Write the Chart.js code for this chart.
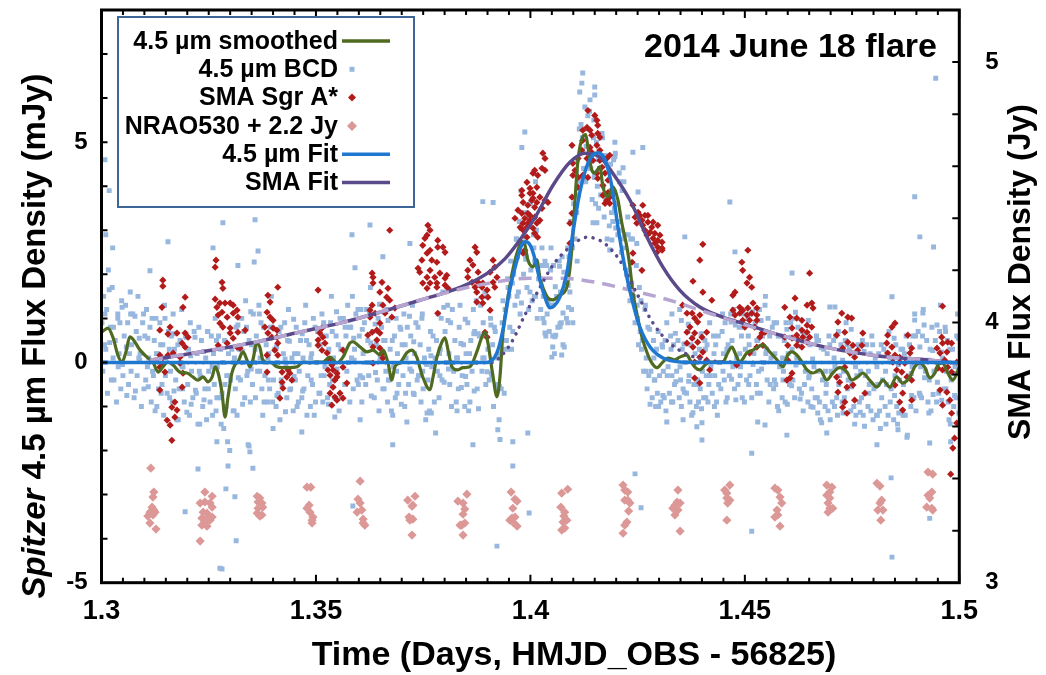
<!DOCTYPE html>
<html>
<head>
<meta charset="utf-8">
<script src="https://cdn.jsdelivr.net/npm/chart.js@4.4.1/dist/chart.umd.min.js"></script>
<style>
  html, body { margin: 0; padding: 0; background: #fff; }
  #wrap { width: 1046px; height: 675px; }
</style>
</head>
<body>
<div id="wrap"><canvas id="chart" width="1046" height="675"></canvas></div>
<script>
// Tick labels
const xLabels = [1.3, 1.35, 1.4, 1.45, 1.5];
const leftLabels = [-5, 0, 5];
const rightLabels = [3, 4, 5];

// Spitzer 4.5 um BCD samples [time, mJy]
const bcd = [
[1.3001,0.9],[1.3003,-0.2],[1.3005,1.5],[1.3007,0.4],[1.3010,0.3],[1.3012,1.2],[1.3014,-0.7],[1.3016,2.1],
[1.3021,0.8],[1.3023,-0.4],[1.3025,1.7],[1.3027,0.1],[1.3032,0.5],[1.3035,-0.9],[1.3038,1.1],
[1.3041,0.2],[1.3043,0.9],[1.3045,-0.6],[1.3047,1.4],[1.3050,-0.3],[1.3053,0.6],[1.3056,1.3],
[1.3061,0.9],[1.3063,-0.5],[1.3065,0.2],[1.3067,1.6],[1.3070,0.4],[1.3073,1.1],[1.3076,-0.8],
[1.3081,0.7],[1.3083,-0.3],[1.3085,1.5],[1.3087,0.1],[1.3090,0.2],[1.3093,-1.0],[1.3096,0.9],
[1.3101,0.6],[1.3103,-0.4],[1.3105,1.2],[1.3107,-0.1],[1.3110,0.1],[1.3113,0.8],[1.3116,-0.9],
[1.3121,-0.3],[1.3123,0.5],[1.3125,-1.1],[1.3127,1.0],[1.3130,0.2],[1.3133,-0.6],[1.3136,0.9],
[1.3141,-0.5],[1.3143,0.4],[1.3145,-1.2],[1.3147,1.3],[1.3150,0.1],[1.3153,-0.7],[1.3156,0.7],
[1.3161,-0.2],[1.3163,0.6],[1.3165,-0.9],[1.3167,1.1],[1.3170,0.3],[1.3173,-0.4],[1.3176,-1.3],
[1.3181,-0.6],[1.3183,0.5],[1.3185,0.0],[1.3187,1.2],[1.3190,-0.1],[1.3193,-0.9],[1.3196,0.6],
[1.3201,-0.5],[1.3203,0.3],[1.3205,-1.2],[1.3207,0.9],[1.3210,-0.2],[1.3213,-0.8],[1.3216,0.7],
[1.3221,-0.7],[1.3223,0.2],[1.3225,-1.4],[1.3227,0.8],[1.3230,-0.3],[1.3233,0.5],[1.3236,-1.0],
[1.3241,-0.6],[1.3243,0.1],[1.3245,-1.3],[1.3247,0.7],[1.3250,-0.2],[1.3253,-0.9],[1.3256,0.6],
[1.3261,0.2],[1.3263,-0.5],[1.3265,1.0],[1.3267,-1.1],[1.3270,-0.1],[1.3273,0.6],[1.3276,-0.8],
[1.3281,-0.7],[1.3283,0.0],[1.3285,-1.5],[1.3287,0.5],[1.3290,-1.0],[1.3292,-0.3],[1.3294,-1.8],[1.3296,0.2],
[1.3301,-0.4],[1.3304,0.3],[1.3307,-1.1],[1.3310,0.1],[1.3312,-0.6],[1.3314,0.8],[1.3316,-1.2],
[1.3321,0.3],[1.3324,-0.4],[1.3327,1.0],[1.3330,0.0],[1.3332,0.7],[1.3334,-0.8],[1.3336,1.4],
[1.3341,-0.2],[1.3344,0.5],[1.3347,-0.9],[1.3350,0.4],[1.3352,-0.5],[1.3354,1.1],[1.3356,0.0],
[1.3361,0.6],[1.3364,-0.2],[1.3367,1.3],[1.3370,0.1],[1.3372,0.9],[1.3374,-0.6],[1.3376,-1.2],
[1.3381,-0.3],[1.3384,0.4],[1.3387,-0.9],[1.3390,0.2],[1.3392,-0.6],[1.3394,0.8],[1.3396,1.5],
[1.3401,-0.4],[1.3404,0.3],[1.3407,-1.0],[1.3410,0.0],[1.3412,-0.7],[1.3414,0.7],[1.3416,-1.3],
[1.3421,-0.5],[1.3424,0.2],[1.3427,0.9],[1.3430,-0.1],[1.3432,-0.8],[1.3434,0.5],[1.3436,1.2],
[1.3441,-0.6],[1.3444,0.1],[1.3447,-1.1],[1.3450,0.2],[1.3452,-0.4],[1.3454,0.8],[1.3456,-1.0],
[1.3461,-0.2],[1.3464,0.5],[1.3467,-0.8],[1.3470,0.1],[1.3472,-0.6],[1.3474,0.9],[1.3476,1.3],
[1.3481,-0.3],[1.3484,0.4],[1.3487,-1.0],[1.3490,0.2],[1.3492,-0.5],[1.3494,1.0],[1.3496,-1.2],
[1.3501,0.0],[1.3504,0.7],[1.3507,-0.7],[1.3510,0.4],[1.3512,-0.3],[1.3514,1.1],[1.3516,-0.9],
[1.3521,-0.1],[1.3524,0.6],[1.3527,-0.8],[1.3530,0.3],[1.3532,-0.5],[1.3534,0.9],[1.3536,1.5],
[1.3541,0.1],[1.3544,-0.8],[1.3547,0.6],[1.3550,-0.3],[1.3552,0.4],[1.3554,-1.1],[1.3556,1.0],
[1.3561,0.3],[1.3564,1.0],[1.3567,-0.5],[1.3570,0.6],[1.3572,-0.2],[1.3574,1.3],[1.3576,0.0],
[1.3581,0.8],[1.3583,0.1],[1.3585,1.5],[1.3587,-0.6],[1.3590,0.3],[1.3593,1.1],[1.3596,-0.4],
[1.3601,0.6],[1.3603,-0.3],[1.3605,1.2],[1.3607,-0.9],[1.3610,0.2],[1.3613,0.9],[1.3616,-0.5],
[1.3621,0.5],[1.3623,-0.3],[1.3625,1.1],[1.3627,1.7],[1.3630,0.0],[1.3633,0.7],[1.3636,-0.8],
[1.3641,0.4],[1.3643,-0.4],[1.3645,1.0],[1.3647,-1.1],[1.3650,0.1],[1.3653,0.8],[1.3656,-0.6],
[1.3661,0.5],[1.3663,-0.2],[1.3665,1.2],[1.3667,-0.9],[1.3670,-0.4],[1.3673,0.3],[1.3676,-1.1],
[1.3681,-0.1],[1.3683,0.6],[1.3685,-0.8],[1.3687,1.0],[1.3690,0.2],[1.3693,-0.5],[1.3696,0.8],
[1.3701,0.4],[1.3703,-0.3],[1.3705,1.1],[1.3707,-1.0],[1.3710,0.1],[1.3713,0.8],[1.3716,-0.5],
[1.3721,0.6],[1.3723,-0.2],[1.3725,1.3],[1.3727,-0.7],[1.3730,0.2],[1.3733,0.9],[1.3736,-0.4],
[1.3741,-0.3],[1.3743,0.4],[1.3745,-0.9],[1.3747,1.0],[1.3750,-0.6],[1.3753,0.1],[1.3756,-1.3],
[1.3761,-0.4],[1.3763,0.3],[1.3765,-1.1],[1.3767,0.7],[1.3770,-0.1],[1.3773,0.6],[1.3776,-0.9],
[1.3781,0.5],[1.3783,-0.2],[1.3785,1.1],[1.3787,-0.8],[1.3790,0.3],[1.3792,1.0],[1.3794,-0.4],[1.3796,1.6],
[1.3801,0.7],[1.3804,0.0],[1.3807,1.3],[1.3810,0.2],[1.3812,-0.5],[1.3814,0.9],[1.3816,-1.0],
[1.3821,-0.2],[1.3824,0.5],[1.3827,-0.9],[1.3830,0.1],[1.3832,-0.6],[1.3834,0.8],[1.3836,1.3],
[1.3841,-0.3],[1.3844,0.4],[1.3847,-1.0],[1.3850,0.2],[1.3852,-0.5],[1.3854,0.9],[1.3856,-1.1],
[1.3861,0.5],[1.3864,-0.2],[1.3867,1.2],[1.3870,0.7],[1.3872,0.0],[1.3874,1.4],[1.3876,-0.6],
[1.3881,0.6],[1.3884,1.3],[1.3887,-0.2],[1.3890,0.9],[1.3892,0.1],[1.3894,1.6],[1.3896,-0.5],
[1.3901,0.3],[1.3904,-0.4],[1.3907,1.0],[1.3910,-0.3],[1.3912,0.4],[1.3914,-1.0],[1.3916,0.8],
[1.3921,-0.6],[1.3924,0.1],[1.3927,-1.3],[1.3930,0.2],[1.3932,-0.6],[1.3934,0.9],[1.3936,1.4],
[1.3941,1.2],[1.3944,0.5],[1.3947,1.9],[1.3950,1.5],[1.3952,0.8],[1.3954,2.3],[1.3956,0.3],
[1.3961,2.0],[1.3964,1.3],[1.3967,2.8],[1.3970,2.4],[1.3972,1.6],[1.3974,3.2],[1.3976,1.1],
[1.3981,2.7],[1.3984,2.0],[1.3987,3.4],[1.3990,2.4],[1.3992,1.7],[1.3994,3.1],[1.3996,1.2],
[1.4001,2.1],[1.4004,1.4],[1.4007,2.9],[1.4010,2.3],[1.4012,1.5],[1.4014,3.0],[1.4016,1.0],
[1.4021,1.9],[1.4024,1.2],[1.4027,2.6],[1.4030,1.5],[1.4032,0.9],[1.4034,2.3],[1.4036,0.6],
[1.4041,1.4],[1.4044,0.7],[1.4047,2.1],[1.4050,1.3],[1.4052,0.6],[1.4054,2.2],[1.4056,0.2],
[1.4061,1.5],[1.4064,0.8],[1.4067,2.3],[1.4070,1.6],[1.4072,0.9],[1.4074,2.4],[1.4076,0.4],
[1.4081,1.8],[1.4084,1.0],[1.4087,2.6],[1.4090,2.4],[1.4092,1.6],[1.4094,3.2],[1.4096,1.2],
[1.4101,3.6],[1.4104,2.8],[1.4107,4.3],[1.4110,4.6],[1.4112,3.8],[1.4114,5.3],[1.4116,4.1],
[1.4121,5.1],[1.4124,4.4],[1.4127,5.8],[1.4130,4.9],[1.4132,4.2],[1.4134,5.6],[1.4136,4.5],
[1.4141,4.4],[1.4144,3.7],[1.4147,5.1],[1.4150,4.3],[1.4152,3.6],[1.4154,5.0],[1.4156,4.0],
[1.4161,4.4],[1.4164,3.8],[1.4167,5.2],[1.4170,4.0],[1.4172,3.3],[1.4174,4.7],[1.4176,3.7],
[1.4181,3.8],[1.4184,3.1],[1.4187,4.5],[1.4190,3.9],[1.4192,3.2],[1.4194,4.6],[1.4196,3.5],
[1.4201,3.6],[1.4204,2.9],[1.4207,4.3],[1.4210,3.2],[1.4212,2.5],[1.4214,3.9],[1.4216,2.8],
[1.4221,2.6],[1.4224,2.0],[1.4227,3.3],[1.4230,2.1],[1.4232,1.4],[1.4234,2.8],[1.4236,1.8],
[1.4241,1.5],[1.4244,0.9],[1.4247,2.2],[1.4250,1.0],[1.4252,0.4],[1.4254,1.7],[1.4256,0.7],
[1.4261,0.5],[1.4264,-0.2],[1.4267,1.2],[1.4270,0.1],[1.4272,-0.6],[1.4274,0.8],[1.4276,-0.3],
[1.4281,-0.2],[1.4284,-0.8],[1.4287,0.5],[1.4290,-0.4],[1.4292,-1.0],[1.4294,0.3],[1.4296,-0.7],
[1.4301,-0.3],[1.4304,-0.9],[1.4307,0.4],[1.4310,-0.2],[1.4312,-0.8],[1.4314,0.5],[1.4316,-1.1],
[1.4321,-0.1],[1.4324,-0.7],[1.4327,0.6],[1.4330,-0.3],[1.4332,-0.9],[1.4334,0.4],[1.4336,-0.5],
[1.4341,-0.2],[1.4344,0.5],[1.4347,-0.8],[1.4350,-0.4],[1.4352,-1.0],[1.4354,0.3],[1.4356,-0.6],
[1.4361,0.0],[1.4364,-0.7],[1.4367,0.7],[1.4370,-0.3],[1.4372,-0.9],[1.4374,0.4],[1.4376,-1.2],
[1.4381,-0.5],[1.4384,0.2],[1.4387,-1.0],[1.4390,-0.4],[1.4392,-0.9],[1.4394,0.3],[1.4396,-0.6],
[1.4401,-0.2],[1.4404,-0.8],[1.4407,0.5],[1.4410,-0.3],[1.4412,0.4],[1.4414,-0.9],[1.4416,-0.5],
[1.4421,-0.1],[1.4424,-0.7],[1.4427,0.6],[1.4430,-0.3],[1.4432,0.4],[1.4434,-0.9],[1.4436,-1.2],
[1.4441,0.0],[1.4444,-0.6],[1.4447,0.7],[1.4450,0.2],[1.4452,-0.4],[1.4454,0.9],[1.4456,-0.9],
[1.4461,0.4],[1.4464,-0.3],[1.4467,1.1],[1.4470,0.5],[1.4472,-0.1],[1.4474,1.2],[1.4476,-0.6],
[1.4481,0.1],[1.4484,-0.5],[1.4487,0.8],[1.4490,-0.1],[1.4492,0.6],[1.4494,-0.8],[1.4496,1.1],
[1.4501,0.3],[1.4504,-0.4],[1.4507,1.0],[1.4510,0.4],[1.4512,-0.3],[1.4514,1.1],[1.4516,-0.8],
[1.4521,0.2],[1.4524,0.9],[1.4527,-0.5],[1.4530,0.5],[1.4532,-0.2],[1.4534,1.2],[1.4536,-0.7],
[1.4541,0.6],[1.4544,0.0],[1.4547,1.3],[1.4550,0.3],[1.4552,-0.4],[1.4554,1.0],[1.4556,-0.9],
[1.4561,0.1],[1.4564,0.8],[1.4567,-0.6],[1.4570,0.2],[1.4572,-0.5],[1.4574,0.9],[1.4576,-1.0],
[1.4581,-0.1],[1.4584,0.6],[1.4587,-0.8],[1.4590,-0.2],[1.4592,0.5],[1.4594,-0.9],[1.4596,0.9],
[1.4601,0.2],[1.4604,-0.5],[1.4607,0.9],[1.4610,0.3],[1.4612,-0.4],[1.4614,1.0],[1.4616,-0.8],
[1.4621,0.1],[1.4624,0.8],[1.4627,-0.6],[1.4630,0.0],[1.4632,-0.7],[1.4634,0.7],[1.4636,-1.1],
[1.4641,-0.2],[1.4644,0.5],[1.4647,-0.9],[1.4650,-0.3],[1.4652,0.4],[1.4654,-1.0],[1.4656,-0.6],
[1.4661,-0.1],[1.4664,-0.8],[1.4667,0.6],[1.4670,-0.2],[1.4672,0.5],[1.4674,-0.9],[1.4676,-1.3],
[1.4681,-0.4],[1.4684,0.3],[1.4687,-1.0],[1.4690,-0.5],[1.4692,0.2],[1.4694,-1.1],[1.4696,0.6],
[1.4701,-0.2],[1.4704,-0.9],[1.4707,0.5],[1.4710,-0.1],[1.4712,0.6],[1.4714,-0.8],[1.4716,-1.2],
[1.4721,-0.3],[1.4724,0.4],[1.4727,-0.9],[1.4730,-0.2],[1.4732,-0.8],[1.4734,0.5],[1.4736,0.9],
[1.4741,-0.4],[1.4744,0.3],[1.4747,-1.1],[1.4750,-0.5],[1.4752,0.2],[1.4754,-1.0],[1.4756,-1.4],
[1.4761,-0.3],[1.4764,0.4],[1.4767,-0.9],[1.4770,-0.2],[1.4772,-0.8],[1.4774,0.5],[1.4776,-1.2],
[1.4781,-0.3],[1.4784,0.4],[1.4787,-1.0],[1.4790,-0.5],[1.4792,0.2],[1.4794,-1.1],[1.4796,0.6],
[1.4801,-0.6],[1.4804,0.1],[1.4807,-1.2],[1.4810,-0.5],[1.4812,0.2],[1.4814,-1.1],[1.4816,-1.5],
[1.4821,-0.4],[1.4824,0.3],[1.4827,-1.0],[1.4830,-0.5],[1.4832,0.2],[1.4834,-1.2],[1.4836,0.7],
[1.4841,-0.6],[1.4844,0.1],[1.4847,-1.3],[1.4850,-0.3],[1.4852,0.4],[1.4854,-1.0],[1.4856,-1.4],
[1.4861,-0.4],[1.4864,0.3],[1.4867,-1.1],[1.4870,-0.5],[1.4872,0.2],[1.4874,-1.2],[1.4876,0.6],
[1.4881,-0.3],[1.4884,0.4],[1.4887,-1.0],[1.4890,-0.1],[1.4892,0.6],[1.4894,-0.8],[1.4896,1.1],
[1.4901,0.0],[1.4904,0.7],[1.4907,-0.7],[1.4910,-0.1],[1.4912,-0.8],[1.4914,0.6],[1.4916,1.2],
[1.4921,-0.2],[1.4924,0.5],[1.4927,-0.9],[1.4930,-0.4],[1.4932,0.3],[1.4934,-1.1],[1.4936,0.8],
[1.4941,-0.2],[1.4944,0.5],[1.4947,-0.9],[1.4950,0.0],[1.4952,-0.7],[1.4954,0.7],[1.4956,1.3],
[1.4961,0.1],[1.4964,-0.6],[1.4967,0.8],[1.4970,-0.2],[1.4972,0.5],[1.4974,-0.9],[1.4976,-1.3],
[1.4981,-0.4],[1.4984,0.3],[1.4987,-1.0],[1.4990,-0.1],[1.4992,-0.8],[1.4994,0.6],[1.4996,1.1],
[1.3008,1.1],[1.3009,0.0],[1.3018,1.65],[1.3019,0.45],[1.3028,0.8],[1.3029,-0.4],[1.3038,1.0],[1.3039,-0.1],
[1.3048,1.25],[1.3049,-0.05],[1.3058,0.35],[1.3059,-0.75],[1.3068,1.1],[1.3069,-0.2],[1.3078,1.05],[1.3079,-0.65],
[1.3088,0.55],[1.3089,0.05],[1.3098,1.1],[1.3099,-0.6],[1.3108,0.55],[1.3109,-0.55],[1.3118,1.0],[1.3119,-0.2],
[1.3128,0.2],[1.3129,-1.0],[1.3138,0.4],[1.3139,-0.7],[1.3148,1.0],[1.3149,-0.3],[1.3158,0.3],[1.3159,-0.8],
[1.3168,0.65],[1.3169,-0.65],[1.3178,0.4],[1.3179,-1.3],[1.3188,-0.1],[1.3189,-0.6],[1.3198,0.57],[1.3199,-1.13],
[1.3208,0.15],[1.3209,-0.95],[1.3218,0.57],[1.3219,-0.63],[1.3228,-0.2],[1.3229,-1.4],[1.3238,0.25],[1.3239,-0.85],
[1.3248,0.7],[1.3249,-0.6],[1.3258,-0.1],[1.3259,-1.2],[1.3268,0.5],[1.3269,-0.8],[1.3278,0.3],[1.3279,-1.4],
[1.3288,-0.5],[1.3289,-1.0],[1.3298,-0.3],[1.3299,-2.0],[1.3308,0.0],[1.3309,-1.1],[1.3318,0.85],[1.3319,-0.35],
[1.3328,0.25],[1.3329,-0.95],[1.3338,0.8],[1.3339,-0.3],[1.3348,1.15],[1.3349,-0.15],[1.3358,0.3],[1.3359,-0.8],
[1.3368,1.1],[1.3369,-0.2],[1.3378,0.8],[1.3379,-0.9],[1.3388,0.1],[1.3389,-0.4],[1.3398,0.8],[1.3399,-0.9],
[1.3408,0.35],[1.3409,-0.75],[1.3418,0.8],[1.3419,-0.4],[1.3428,0.08],[1.3429,-1.12],[1.3438,0.48],[1.3439,-0.62],
[1.3448,0.98],[1.3449,-0.32],[1.3458,0.2],[1.3459,-0.9],[1.3468,0.65],[1.3469,-0.65],[1.3478,0.5],[1.3479,-1.2],
[1.3488,0.1],[1.3489,-0.4],[1.3498,0.8],[1.3499,-0.9],[1.3508,0.4],[1.3509,-0.7],[1.3518,0.9],[1.3519,-0.3],
[1.3528,0.25],[1.3529,-0.95],[1.3538,0.7],[1.3539,-0.4],[1.3548,1.15],[1.3549,-0.15],[1.3558,0.3],[1.3559,-0.8],
[1.3568,0.8],[1.3569,-0.5],[1.3578,0.8],[1.3579,-0.9],[1.3588,0.55],[1.3589,0.05],[1.3598,1.2],[1.3599,-0.5],
[1.3608,0.75],[1.3609,-0.35],[1.3618,1.2],[1.3619,0.0],[1.3628,0.44],[1.3629,-0.76],[1.3638,0.87],[1.3639,-0.23],
[1.3648,1.32],[1.3649,0.02],[1.3658,0.5],[1.3659,-0.6],[1.3668,0.95],[1.3669,-0.4],[1.3678,0.5],[1.3679,-1.2],
[1.3688,-0.2],[1.3689,-0.7],[1.3698,0.75],[1.3699,-0.95],[1.3708,0.4],[1.3709,-0.7],[1.3718,1.05],[1.3719,-0.15],
[1.3728,0.47],[1.3729,-0.73],[1.3738,0.8],[1.3739,-0.3],[1.3748,1.1],[1.3749,-0.2],[1.3758,-0.05],[1.3759,-1.15],
[1.3768,0.15],[1.3769,-1.15],[1.3778,0.1],[1.3779,-1.6],[1.3788,0.2],[1.3789,-0.3],[1.3798,1.25],[1.3799,-0.45],
[1.3808,0.95],[1.3809,-0.15],[1.3818,1.2],[1.3819,0.0],[1.3828,0.1],[1.3829,-1.1],[1.3838,0.43],[1.3839,-0.57],
[1.3848,0.98],[1.3849,-0.32],[1.3858,0.2],[1.3859,-0.9],[1.3868,0.65],[1.3869,-0.65],[1.3878,0.65],[1.3879,-1.05],
[1.3888,0.6],[1.3889,0.1],[1.3898,1.49],[1.3899,-0.21],[1.3908,0.85],[1.3909,-0.25],[1.3918,0.7],[1.3919,-0.5],
[1.3928,-0.55],[1.3929,-1.75],[1.3938,0.3],[1.3939,-0.7],[1.3948,1.7],[1.3949,0.3],[1.3958,1.8],[1.3959,0.7],
[1.3968,2.8],[1.3969,1.5],[1.3978,3.05],[1.3979,1.35],[1.3988,2.84],[1.3989,2.34],[1.3998,3.3],[1.3999,1.6],
[1.4008,2.6],[1.4009,1.5],[1.4018,3.2],[1.4019,1.9],[1.4028,2.2],[1.4029,1.0],[1.4038,2.2],[1.4039,1.1],
[1.4048,2.6],[1.4049,1.3],[1.4058,1.72],[1.4059,0.62],[1.4068,2.18],[1.4069,0.88],[1.4078,2.05],[1.4079,0.35],
[1.4088,1.75],[1.4089,1.25],[1.4098,2.6],[1.4099,0.9],[1.4108,3.4],[1.4109,2.3],[1.4118,5.4],[1.4119,4.2],
[1.4128,5.3],[1.4129,4.1],[1.4138,5.7],[1.4139,4.4],[1.4148,5.5],[1.4149,4.2],[1.4158,4.6],[1.4159,3.5],
[1.4168,5.1],[1.4169,3.8],[1.4178,4.5],[1.4179,2.8],[1.4188,3.9],[1.4189,3.4],[1.4198,4.75],[1.4199,3.05],
[1.4208,4.1],[1.4209,3.0],[1.4218,4.1],[1.4219,2.9],[1.4228,2.9],[1.4229,1.7],[1.4238,2.8],[1.4239,1.5],
[1.4248,2.7],[1.4249,1.3],[1.4258,1.4],[1.4259,0.3],[1.4268,1.3],[1.4269,-0.2],[1.4278,0.75],[1.4279,-0.95],
[1.4288,0.1],[1.4289,-0.4],[1.4298,0.7],[1.4299,-1.0],[1.4308,0.35],[1.4309,-0.75],[1.4318,0.9],[1.4319,-0.3],
[1.4328,0.3],[1.4329,-0.9],[1.4338,0.66],[1.4339,-0.44],[1.4348,1.2],[1.4349,-0.1],[1.4358,0.42],[1.4359,-0.68],
[1.4368,0.87],[1.4369,-0.43],[1.4378,0.56],[1.4379,-1.14],[1.4388,0.0],[1.4389,-0.5],[1.4398,0.65],[1.4399,-1.05],
[1.4408,0.3],[1.4409,-0.8],[1.4418,0.9],[1.4419,-0.3],[1.4428,0.2],[1.4429,-1.0],[1.4438,0.6],[1.4439,-0.5],
[1.4448,1.1],[1.4449,-0.2],[1.4458,0.3],[1.4459,-0.8],[1.4468,0.92],[1.4469,-0.38],[1.4478,0.85],[1.4479,-0.85],
[1.4488,0.2],[1.4489,-0.3],[1.4498,0.8],[1.4499,-0.9],[1.4508,0.6],[1.4509,-0.5],[1.4518,1.15],[1.4519,-0.05],
[1.4528,0.5],[1.4529,-0.7],[1.4538,0.95],[1.4539,-0.15],[1.4548,1.5],[1.4549,0.2],[1.4558,0.6],[1.4559,-0.5],
[1.4568,0.9],[1.4569,-0.4],[1.4578,0.6],[1.4579,-1.1],[1.4588,0.1],[1.4589,-0.4],[1.4598,0.75],[1.4599,-0.95],
[1.4608,0.57],[1.4609,-0.53],[1.4618,1.14],[1.4619,-0.06],[1.4628,0.37],[1.4629,-0.83],[1.4638,0.6],[1.4639,-0.5],
[1.4648,0.95],[1.4649,-0.35],[1.4658,0.08],[1.4659,-1.02],[1.4668,0.5],[1.4669,-0.8],[1.4678,0.33],[1.4679,-1.37],
[1.4688,-0.2],[1.4689,-0.7],[1.4698,0.4],[1.4699,-1.3],[1.4708,0.1],[1.4709,-1.0],[1.4718,0.7],[1.4719,-0.5],
[1.4728,0.05],[1.4729,-1.15],[1.4738,0.4],[1.4739,-0.6],[1.4748,0.75],[1.4749,-0.55],[1.4758,-0.1],[1.4759,-1.2],
[1.4768,0.37],[1.4769,-1.13],[1.4778,0.25],[1.4779,-1.45],[1.4788,-0.2],[1.4789,-0.7],[1.4798,0.4],[1.4799,-1.3],
[1.4808,-0.1],[1.4809,-1.2],[1.4818,0.4],[1.4819,-0.8],[1.4828,-0.2],[1.4829,-1.4],[1.4838,0.1],[1.4839,-0.9],
[1.4848,0.55],[1.4849,-0.75],[1.4858,-0.05],[1.4859,-1.15],[1.4868,0.3],[1.4869,-1.2],[1.4878,0.05],[1.4879,-1.65],
[1.4888,-0.25],[1.4889,-0.75],[1.4898,0.6],[1.4899,-1.1],[1.4908,0.35],[1.4909,-0.75],[1.4918,0.85],[1.4919,-0.35],
[1.4928,0.05],[1.4929,-1.15],[1.4938,0.27],[1.4939,-0.73],[1.4948,0.85],[1.4949,-0.45],[1.4958,0.24],[1.4959,-0.86],
[1.4968,0.7],[1.4969,-0.6],[1.4978,0.3],[1.4979,-1.4],[1.4988,-0.25],[1.4989,-0.75],[1.4998,0.55],[1.4999,-1.15],
[1.3008,4.6],[1.3018,3.9],[1.3010,2.9],[1.3026,2.6],[1.3283,3.17],[1.3358,3.24],[1.3155,2.74],[1.3260,2.6],
[1.3365,2.53],[1.3356,2.28],[1.3318,2.2],[1.3113,2.08],[1.3342,-1.87],[1.3346,-2.03],[1.3467,-1.58],[1.3400,-1.5],
[1.3269,-1.8],[1.3626,3.12],[1.3584,2.9],[1.3656,2.4],[1.3719,2.7],[1.3889,3.65],[1.3913,3.63],[1.3591,2.15],
[1.3679,-1.87],[1.3866,-1.87],[1.3959,-1.8],[1.3994,-1.6],[1.3924,-1.53],[1.3544,-1.24],[1.3603,-1.3],[1.3712,-1.35],
[1.4122,6.57],[1.4120,6.34],[1.4115,6.14],[1.4150,6.25],[1.4150,6.07],[1.4139,5.96],[1.3987,5.23],[1.3980,4.88],
[1.4197,5.0],[1.4197,4.67],[1.4216,4.42],[1.4239,4.77],[1.4262,4.88],[1.4251,3.87],[1.4465,3.64],[1.4360,2.85],
[1.4146,3.17],[1.4155,3.17],[1.4190,2.78],[1.4185,2.55],[1.3978,3.9],[1.4000,3.6],[1.4012,4.1],[1.4330,1.1],[1.4352,0.95],
[1.4318,-1.35],[1.4356,-1.3],[1.4388,-1.46],[1.4400,-1.37],[1.4050,0.12],[1.4073,0.17],[1.4052,0.35],[1.4034,0.67],
[1.4057,0.58],[1.4069,0.81],[1.4087,0.9],[1.4076,1.12],[1.4896,3.76],[1.4908,2.85],[1.4940,2.62],[1.4843,1.49],
[1.4477,2.51],[1.4610,2.03],[1.4698,1.26],[1.4710,1.26],[1.4915,1.12],[1.4896,0.96],[1.4516,-2.06],[1.4598,-1.65],
[1.4691,-1.6],[1.4808,-1.87],[1.4857,-1.53],[1.4878,-1.7],[1.4931,-1.83],[1.4530,-1.35],[1.4547,-1.42],[1.4670,-1.15],
[1.4945,6.45],[1.3276,-4.67],[1.3281,-4.69],[1.3195,-3.39],[1.3225,-2.42],[1.3295,-2.35],[1.3290,-2.87],[1.3311,-3.05],
[1.3314,-4.05],[1.3344,-1.90],[1.3353,-2.40],[1.3586,-3.26],[1.3959,-2.35],[1.3997,-3.42],[1.3922,-4.17],[1.4244,-2.53],
[1.4258,-3.30],[1.4400,-1.76],[1.4516,-3.83],[1.4841,-2.62],[1.4843,-4.42],[1.4931,-3.54],[1.4980,-1.80]
];

// 4.5 um smoothed light curve [time, mJy]
const smoothed = [
[1.3001,0.69],[1.3015,0.78],[1.3027,0.56],[1.3038,0.17],[1.3048,0.01],[1.3057,0.24],[1.3066,0.58],[1.3090,0.28],
[1.3106,0.12],[1.3120,0.01],[1.3132,-0.22],[1.3143,-0.10],[1.3155,0.01],[1.3167,-0.06],[1.3183,-0.22],[1.3199,-0.24],
[1.3213,-0.33],[1.3225,-0.40],[1.3237,-0.33],[1.3248,-0.44],[1.3258,-0.33],[1.3265,-0.10],[1.3272,-0.24],[1.3281,-0.69],
[1.3288,-1.24],[1.3295,-0.78],[1.3304,-0.24],[1.3311,-0.06],[1.3318,0.01],[1.3330,0.24],[1.3339,0.06],[1.3346,-0.10],
[1.3353,0.06],[1.3362,0.44],[1.3369,0.35],[1.3376,0.06],[1.3386,-0.01],[1.3393,0.01],[1.3409,-0.10],[1.3423,-0.12],
[1.3439,-0.12],[1.3456,-0.10],[1.3470,0.01],[1.3486,-0.01],[1.3502,0.01],[1.3516,0.01],[1.3532,0.12],[1.3549,-0.01],
[1.3563,0.12],[1.3579,0.44],[1.3586,0.47],[1.3603,0.35],[1.3619,0.24],[1.3633,0.28],[1.3649,0.17],[1.3656,0.28],
[1.3668,-0.01],[1.3677,-0.40],[1.3684,-0.10],[1.3696,-0.01],[1.3712,0.22],[1.3724,0.28],[1.3735,0.12],[1.3749,-0.33],
[1.3766,-0.62],[1.3773,-0.33],[1.3782,0.12],[1.3794,0.47],[1.3801,0.56],[1.3808,0.28],[1.3817,-0.10],[1.3829,-0.17],
[1.3843,-0.12],[1.3859,-0.10],[1.3875,0.24],[1.3887,0.58],[1.3894,0.69],[1.3901,0.44],[1.3913,-0.33],[1.3922,-0.78],
[1.3929,-0.33],[1.3936,0.67],[1.3948,1.49],[1.3959,2.10],[1.3971,2.55],[1.3980,2.74],[1.3987,2.67],[1.3994,2.33],
[1.4006,2.17],[1.4015,2.33],[1.4022,1.94],[1.4039,1.49],[1.4052,1.42],[1.4069,1.53],[1.4085,1.71],[1.4097,2.62],
[1.4104,3.69],[1.4111,4.60],[1.4122,5.12],[1.4129,5.17],[1.4134,4.89],[1.4143,4.37],[1.4150,4.30],[1.4162,4.44],
[1.4169,3.99],[1.4181,3.76],[1.4192,3.99],[1.4204,3.69],[1.4213,3.17],[1.4225,2.62],[1.4232,2.17],[1.4239,1.58],
[1.4248,1.12],[1.4260,0.58],[1.4272,0.22],[1.4283,-0.01],[1.4295,-0.12],[1.4307,-0.01],[1.4321,0.10],[1.4337,0.06],
[1.4348,0.12],[1.4365,0.17],[1.4372,0.06],[1.4383,-0.10],[1.4395,-0.17],[1.4407,-0.06],[1.4418,0.01],[1.4435,0.01],
[1.4449,0.01],[1.4460,0.22],[1.4470,0.35],[1.4477,0.22],[1.4488,0.01],[1.4505,0.22],[1.4519,0.28],[1.4542,0.40],
[1.4558,0.24],[1.4575,0.06],[1.4589,-0.10],[1.4600,0.17],[1.4610,0.24],[1.4621,0.17],[1.4633,0.01],[1.4645,-0.17],
[1.4659,-0.24],[1.4675,-0.17],[1.4691,-0.40],[1.4705,-0.24],[1.4721,-0.12],[1.4738,-0.22],[1.4749,-0.40],[1.4763,-0.33],
[1.4775,-0.24],[1.4791,-0.40],[1.4808,-0.56],[1.4822,-0.40],[1.4838,-0.56],[1.4854,-0.33],[1.4868,-0.47],[1.4885,-0.33],
[1.4896,-0.10],[1.4908,-0.01],[1.4920,-0.12],[1.4931,-0.35],[1.4943,-0.24],[1.4950,-0.06],[1.4961,-0.01],[1.4973,-0.24],
[1.4985,-0.40],[1.5000,-0.10]
];

// 4.5 um model fit [time, mJy]
const irFit = [
[1.3,0],[1.3899,0],[1.3922,0.22],[1.3936,0.74],[1.3952,1.65],[1.3969,2.33],[1.3980,2.67],[1.3989,2.74],[1.3999,2.67],
[1.4008,2.44],[1.4022,1.87],[1.4036,1.42],[1.4045,1.24],[1.4055,1.28],[1.4069,1.49],[1.4085,2.03],[1.4099,2.94],
[1.4115,3.85],[1.4131,4.44],[1.4146,4.71],[1.4157,4.76],[1.4174,4.60],[1.4190,3.99],[1.4204,3.08],[1.4220,2.17],
[1.4237,1.42],[1.4255,0.81],[1.4279,0.35],[1.4309,0.10],[1.4349,0.01],[1.4395,0],[1.5,0]
];

// SMA Sgr A* flux [time, Jy]
const smaSgrA = [
[1.3143,4.162],[1.3143,4.139],[1.3141,4.058],[1.3195,4.097],[1.3190,4.058],[1.3136,3.970],[1.3160,3.982],[1.3155,3.955],[1.3176,3.959],[1.3195,3.959],
[1.3202,3.943],[1.3188,3.920],[1.3195,3.905],[1.3136,3.874],[1.3155,3.874],[1.3167,3.882],[1.3183,3.866],[1.3143,3.843],[1.3136,3.828],[1.3148,3.809],
[1.3183,3.843],[1.3190,3.805],[1.3188,3.751],[1.3136,3.740],[1.3171,3.694],[1.3164,3.674],[1.3176,3.663],[1.3171,3.636],[1.3153,3.624],[1.3160,3.605],[1.3164,3.547],
[1.3267,4.239],[1.3265,4.212],[1.3281,4.154],[1.3283,4.131],[1.3265,4.089],[1.3269,4.058],[1.3276,4.074],[1.3288,4.074],[1.3300,4.074],[1.3307,4.066],
[1.3281,4.039],[1.3272,4.028],[1.3293,4.020],[1.3316,4.047],[1.3307,4.035],[1.3318,4.020],[1.3276,3.997],[1.3283,3.982],[1.3300,3.978],[1.3300,3.959],
[1.3307,3.939],[1.3318,3.962],[1.3335,3.970],[1.3293,3.920],[1.3272,3.912],[1.3316,3.905],[1.3323,3.901],
[1.3411,4.135],[1.3388,4.104],[1.3393,4.078],[1.3386,4.039],[1.3393,4.020],[1.3400,4.008],[1.3381,3.982],[1.3400,3.978],[1.3409,3.970],[1.3388,3.959],
[1.3397,3.943],[1.3409,3.943],[1.3411,3.920],[1.3404,3.893],[1.3411,3.874],[1.3386,3.874],[1.3421,3.809],[1.3435,3.817],[1.3432,3.790],[1.3439,3.805],
[1.3444,3.778],[1.3421,3.770],[1.3423,3.747],[1.3416,3.709],[1.3386,3.809],
[1.3505,4.124],[1.3514,3.978],[1.3509,3.959],[1.3505,3.932],[1.3516,3.943],[1.3505,3.912],[1.3521,3.920],[1.3514,3.893],[1.3526,3.882],[1.3533,3.855],
[1.3537,3.836],[1.3528,3.817],[1.3540,3.817],[1.3533,3.797],[1.3549,3.805],[1.3544,3.778],[1.3540,3.751],[1.3533,3.728],[1.3544,3.713],[1.3537,3.682],
[1.3563,3.893],[1.3540,3.843],[1.3563,3.828],[1.3549,3.790],[1.3572,3.767],[1.3556,3.728],[1.3563,3.709],[1.3549,3.701],
[1.3672,4.354],[1.3631,4.189],[1.3633,4.173],[1.3633,4.151],[1.3654,4.154],[1.3668,4.131],[1.3649,4.116],[1.3665,4.097],[1.3672,4.085],[1.3656,4.066],
[1.3631,4.066],[1.3626,4.047],[1.3638,4.035],[1.3661,4.035],[1.3684,4.055],[1.3677,4.020],[1.3649,3.997],[1.3626,4.020],[1.3642,3.970],[1.3649,3.959],
[1.3631,3.962],[1.3621,3.951],[1.3642,3.932],[1.3633,3.905],[1.3649,3.901],[1.3654,3.882],[1.3656,3.863],[1.3633,3.843],
[1.3761,4.373],[1.3766,4.354],[1.3759,4.335],[1.3754,4.323],[1.3749,4.296],[1.3784,4.315],[1.3784,4.289],[1.3766,4.277],[1.3796,4.289],[1.3801,4.269],
[1.3759,4.266],[1.3747,4.239],[1.3770,4.239],[1.3782,4.231],[1.3738,4.208],[1.3766,4.200],[1.3789,4.189],[1.3805,4.181],[1.3742,4.193],[1.3759,4.173],
[1.3777,4.173],[1.3801,4.170],[1.3766,4.151],[1.3782,4.151],[1.3749,4.151],[1.3801,4.143],[1.3759,4.131],[1.3782,4.135],[1.3808,4.131],[1.3784,4.035],
[1.3871,4.289],[1.3875,4.269],[1.3859,4.239],[1.3866,4.220],[1.3854,4.200],[1.3878,4.193],[1.3854,4.173],[1.3864,4.154],[1.3878,4.154],[1.3889,4.151],
[1.3871,4.135],[1.3887,4.135],[1.3875,4.116],[1.3899,4.124],[1.3887,4.097],[1.3901,4.097],[1.3875,4.078],[1.3889,4.074],[1.3913,4.239],[1.3917,4.212],
[1.3906,4.193],[1.3922,4.173],[1.3913,4.154],[1.3906,4.047],[1.3917,4.135],[1.3894,3.962],[1.3899,3.943],
[1.3964,4.400],[1.3971,4.431],[1.3983,4.461],[1.3980,4.488],[1.3999,4.496],[1.4006,4.477],[1.3994,4.450],[1.4015,4.461],[1.3980,4.507],[1.3992,4.538],
[1.4006,4.573],[1.4010,4.584],[1.3976,4.365],[1.3994,4.419],[1.3999,4.392],[1.3983,4.354],
[1.3980,4.419],[1.3987,4.400],[1.3999,4.411],[1.4010,4.404],[1.3983,4.381],[1.3994,4.381],[1.4015,4.381],[1.4022,4.392],[1.3992,4.365],[1.4006,4.362],
[1.4010,4.342],[1.4017,4.327],[1.3992,4.327],[1.4027,4.438],[1.4010,4.442],[1.4003,4.469],[1.4022,4.481],[1.4034,4.469],[1.4041,4.461],[1.4006,4.496],
[1.3999,4.515],[1.4015,4.519],[1.4017,4.565],[1.4034,4.584],[1.4027,4.592],[1.4034,4.630],[1.4029,4.650],[1.3976,4.304],[1.3983,4.266],[1.3987,4.277],
[1.4097,4.680],[1.4099,4.611],[1.4104,4.584],[1.4099,4.565],[1.4111,4.557],[1.4122,4.565],[1.4111,4.630],[1.4120,4.661],[1.4122,4.699],[1.4122,4.738],
[1.4132,4.749],[1.4134,4.814],[1.4150,4.795],[1.4155,4.776],[1.4157,4.757],[1.4139,4.738],[1.4143,4.719],[1.4157,4.726],[1.4162,4.711],[1.4155,4.680],
[1.4139,4.672],[1.4143,4.653],[1.4162,4.661],[1.4132,4.630],[1.4146,4.622],[1.4162,4.622],[1.4178,4.630],[1.4185,4.642],[1.4167,4.596],[1.4155,4.573],
[1.4134,4.557],[1.4157,4.553],[1.4174,4.573],[1.4181,4.546],[1.4169,4.526],[1.4181,4.499],[1.4169,4.488],[1.4185,4.481],[1.4178,4.469],[1.4174,4.457],
[1.4185,4.457],[1.4192,4.499],[1.4111,4.519],[1.4097,4.481],[1.4097,4.419],[1.4092,4.381],[1.4092,4.304],
[1.4239,4.450],[1.4262,4.450],[1.4251,4.423],[1.4244,4.404],[1.4255,4.411],[1.4267,4.411],[1.4274,4.411],[1.4260,4.392],[1.4274,4.385],[1.4286,4.385],
[1.4248,4.381],[1.4262,4.373],[1.4283,4.365],[1.4297,4.373],[1.4267,4.354],[1.4279,4.346],[1.4290,4.342],[1.4302,4.335],[1.4272,4.335],[1.4286,4.323],
[1.4297,4.315],[1.4307,4.308],[1.4290,4.304],[1.4297,4.289],[1.4307,4.285],[1.4295,4.269],[1.4307,4.277],[1.4239,4.266],[1.4260,4.200],[1.4237,4.231],
[1.4402,4.300],[1.4395,4.239],[1.4379,4.158],[1.4402,4.116],[1.4423,4.085],[1.4355,4.066],[1.4365,4.035],[1.4377,4.035],[1.4395,4.028],[1.4383,4.016],
[1.4390,4.001],[1.4372,3.982],[1.4365,3.962],[1.4383,3.959],[1.4400,3.943],[1.4377,3.939],[1.4390,3.924],[1.4411,3.962],[1.4365,3.920],[1.4379,3.905],
[1.4402,3.886],[1.4395,3.866],[1.4411,3.855],[1.4383,3.847],[1.4418,3.817],[1.4383,3.786],[1.4395,3.767],[1.4472,4.047],[1.4477,4.028],[1.4488,4.035],
[1.4507,4.277],[1.4493,4.231],[1.4495,4.200],[1.4511,4.173],[1.4505,4.151],[1.4516,4.135],[1.4477,4.116],[1.4472,4.104],[1.4488,4.058],[1.4495,4.047],
[1.4507,4.055],[1.4519,4.074],[1.4528,4.055],[1.4505,4.028],[1.4516,4.035],[1.4528,4.028],[1.4495,4.008],[1.4511,4.008],[1.4528,4.008],[1.4500,3.982],
[1.4523,3.982],[1.4540,3.959],[1.4547,3.962],[1.4535,3.943],[1.4542,3.912],[1.4528,3.905],[1.4511,3.882],[1.4481,3.836],
[1.4651,4.189],[1.4617,4.093],[1.4593,4.058],[1.4605,4.020],[1.4621,4.016],[1.4633,4.008],[1.4645,3.989],[1.4656,3.982],[1.4610,3.978],[1.4633,3.970],
[1.4645,3.962],[1.4621,3.951],[1.4635,3.943],[1.4651,3.943],[1.4610,3.939],[1.4624,3.932],[1.4645,3.924],[1.4600,3.912],[1.4621,3.912],[1.4633,3.905],
[1.4593,3.943],[1.4656,4.074],[1.4659,4.055],[1.4645,4.066],[1.4600,3.855],[1.4610,3.805],[1.4605,3.786],[1.4598,3.778],
[1.4726,4.035],[1.4717,4.001],[1.4740,4.020],[1.4749,4.016],[1.4733,3.962],[1.4714,3.951],[1.4740,3.924],[1.4752,3.912],[1.4728,3.901],[1.4745,3.882],
[1.4763,3.893],[1.4773,3.912],[1.4775,3.959],[1.4756,3.866],[1.4733,3.828],[1.4714,3.790],[1.4721,3.770],[1.4738,3.751],[1.4752,3.759],[1.4780,3.728],
[1.4717,3.732],[1.4733,3.694],[1.4728,3.674],[1.4738,3.651],[1.4756,3.701],
[1.4843,3.982],[1.4850,3.997],[1.4833,3.951],[1.4831,3.920],[1.4843,3.905],[1.4833,3.882],[1.4850,3.874],[1.4861,3.866],[1.4845,3.847],[1.4861,3.847],
[1.4873,3.843],[1.4885,3.882],[1.4880,3.951],[1.4889,3.901],[1.4854,3.817],[1.4866,3.809],[1.4878,3.790],[1.4850,3.759],[1.4868,3.728],[1.4889,3.701],
[1.4861,3.694],[1.4868,3.663],[1.4889,3.778],
[1.4961,4.062],[1.4959,3.943],[1.4961,3.920],[1.4973,3.924],[1.4982,3.920],[1.4948,3.901],[1.4971,3.886],[1.4955,3.882],[1.4966,3.855],[1.4950,3.824],
[1.4961,3.817],[1.4973,3.828],[1.4982,3.809],[1.4994,3.847],[1.4955,3.740],[1.4971,3.732],[1.4978,3.701],[1.4961,3.682],[1.4982,3.651],[1.4994,3.613],
[1.4989,3.555],[1.4985,3.517],[1.4980,3.417]
];

// NRAO530 calibrator + 2.2 Jy [time, Jy]
const nrao530 = [
[1.3115,3.440],[1.3122,3.348],[1.3120,3.329],[1.3118,3.290],[1.3122,3.279],[1.3113,3.271],[1.3125,3.271],[1.3108,3.256],[1.3120,3.260],[1.3113,3.229],[1.3127,3.206],
[1.3241,3.348],[1.3258,3.332],[1.3230,3.306],[1.3241,3.310],[1.3253,3.306],[1.3258,3.290],[1.3237,3.271],[1.3246,3.267],[1.3234,3.248],[1.3248,3.252],
[1.3241,3.233],[1.3253,3.240],[1.3234,3.221],[1.3246,3.217],[1.3230,3.160],[1.3258,3.252],
[1.3363,3.332],[1.3369,3.325],[1.3365,3.310],[1.3374,3.306],[1.3376,3.290],[1.3363,3.267],[1.3369,3.256],[1.3374,3.260],[1.3365,3.286],
[1.3479,3.367],[1.3488,3.367],[1.3479,3.286],[1.3484,3.298],[1.3486,3.271],[1.3493,3.252],[1.3491,3.240],[1.3491,3.229],
[1.3603,3.390],[1.3598,3.321],[1.3603,3.306],[1.3596,3.271],[1.3607,3.279],[1.3610,3.244],[1.3614,3.221],[1.3610,3.229],
[1.3731,3.332],[1.3714,3.317],[1.3724,3.294],[1.3726,3.298],[1.3717,3.252],[1.3726,3.244],[1.3724,3.183],[1.3719,3.240],
[1.3852,3.340],[1.3831,3.313],[1.3843,3.306],[1.3847,3.283],[1.3843,3.263],[1.3840,3.221],[1.3847,3.229],[1.3843,3.183],[1.3836,3.221],
[1.3955,3.348],[1.3964,3.321],[1.3969,3.313],[1.3959,3.286],[1.3957,3.248],[1.3964,3.252],[1.3952,3.240],[1.3969,3.217],[1.3959,3.233],
[1.4073,3.344],[1.4087,3.359],[1.4071,3.290],[1.4080,3.271],[1.4076,3.233],[1.4085,3.240],[1.4073,3.202],[1.4080,3.210],[1.4078,3.256],
[1.4216,3.375],[1.4220,3.356],[1.4227,3.348],[1.4220,3.317],[1.4227,3.317],[1.4232,3.306],[1.4229,3.275],[1.4225,3.233],[1.4220,3.221],[1.4216,3.190],
[1.4344,3.356],[1.4342,3.310],[1.4337,3.298],[1.4349,3.306],[1.4332,3.286],[1.4344,3.279],[1.4337,3.260],[1.4349,3.198],
[1.4465,3.375],[1.4453,3.356],[1.4458,3.344],[1.4458,3.325],[1.4465,3.317],[1.4460,3.306],[1.4458,3.240],
[1.4570,3.363],[1.4577,3.356],[1.4582,3.329],[1.4586,3.306],[1.4575,3.279],[1.4577,3.260],[1.4570,3.252],[1.4582,3.217],
[1.4691,3.375],[1.4703,3.367],[1.4698,3.348],[1.4691,3.336],[1.4698,3.325],[1.4694,3.306],[1.4698,3.286],[1.4705,3.286],[1.4694,3.271],
[1.4808,3.382],[1.4815,3.371],[1.4819,3.317],[1.4815,3.306],[1.4810,3.279],[1.4822,3.279],[1.4817,3.240],
[1.4927,3.425],[1.4938,3.417],[1.4936,3.348],[1.4927,3.336],[1.4931,3.325],[1.4924,3.290],[1.4936,3.286],[1.4938,3.279]
];

// SMA model: total, broad and narrow components [time, Jy]
const smaFit = [
[1.3113,3.855],[1.3230,3.886],[1.3346,3.920],[1.3463,3.963],[1.3556,3.997],[1.3649,4.039],[1.3742,4.085],[1.3812,4.120],
[1.3859,4.151],[1.3906,4.196],[1.3941,4.245],[1.3980,4.327],[1.4015,4.415],[1.4052,4.525],[1.4092,4.615],[1.4127,4.650],
[1.4162,4.635],[1.4192,4.573],[1.4232,4.470],[1.4272,4.327],[1.4309,4.212],[1.4348,4.124],[1.4395,4.059],[1.4442,4.024],
[1.4488,4.000],[1.4582,3.951],[1.4698,3.901],[1.4815,3.870],[1.4931,3.855],[1.5,3.843]
];
const smaBroad = [
[1.3113,3.855],[1.3230,3.886],[1.3346,3.920],[1.3463,3.963],[1.3556,3.997],[1.3649,4.039],[1.3742,4.085],[1.3835,4.127],
[1.3929,4.158],[1.3999,4.170],[1.4069,4.170],[1.4162,4.151],[1.4232,4.124],[1.4325,4.085],[1.4395,4.047],[1.4488,3.997],
[1.4582,3.951],[1.4698,3.901],[1.4815,3.870],[1.4931,3.855],[1.5,3.843]
];
const smaNarrow = [
[1.3113,3.845],[1.3906,3.845],[1.3929,3.866],[1.3959,3.932],[1.3987,4.028],[1.4015,4.112],[1.4052,4.219],[1.4092,4.289],
[1.4132,4.327],[1.4169,4.308],[1.4208,4.239],[1.4248,4.112],[1.4286,3.997],[1.4325,3.920],[1.4365,3.878],[1.4411,3.855],
[1.4488,3.847],[1.5,3.845]
];

const FONT = '"Liberation Sans", Arial, Helvetica, sans-serif';
const GREEN = '#4f6b21';
const BCD_BLUE = '#97b7df';
const SGRA_RED = '#b31b1b';
const NRAO_PINK = '#dc9896';
const FIT_BLUE = '#1f78cf';
const SMA_PURPLE = '#5b4a8a';
const SMA_LAVENDER = '#b6a5d0';

const toXY = pts => pts.map(p => ({ x: p[0], y: p[1] }));

const legendRows = [
    { text: '4.5 µm smoothed', kind: 'line', color: GREEN },
    { text: '4.5 µm BCD', kind: 'square', color: BCD_BLUE },
    { text: 'SMA Sgr A*', kind: 'diamond', color: SGRA_RED, size: 4 },
    { text: 'NRAO530 + 2.2 Jy', kind: 'diamond', color: NRAO_PINK, size: 5 },
    { text: '4.5 µm Fit', kind: 'line', color: FIT_BLUE },
    { text: 'SMA Fit', kind: 'line', color: SMA_PURPLE }
];

function line(ctx, x1, y1, x2, y2) {
    ctx.moveTo(x1, y1);
    ctx.lineTo(x2, y2);
}

// frame, inward ticks, titles and the boxed legend
const decor = {
    id: 'decor',
    afterDraw(chart) {
        const { ctx, chartArea: a, scales } = chart;
        ctx.save();

        ctx.strokeStyle = '#000';
        ctx.lineWidth = 2;
        ctx.beginPath();
        for (let i = 0; i <= 40; i++) {
            const px = scales.x.getPixelForValue(1.3 + i * 0.005);
            const len = i % 10 === 0 ? 8 : 5;
            line(ctx, px, a.bottom, px, a.bottom - len);
            line(ctx, px, a.top, px, a.top + len);
        }
        for (let v = -4; v <= 7; v++) {
            const py = scales.y.getPixelForValue(v);
            line(ctx, a.left, py, a.left + 6, py);
        }
        for (let i = 1; i <= 10; i++) {
            const py = scales.y2.getPixelForValue(3 + i * 0.2);
            line(ctx, a.right, py, a.right - 7, py);
        }
        ctx.stroke();

        ctx.lineWidth = 3;
        ctx.strokeRect(a.left, a.top, a.right - a.left, a.bottom - a.top);

        // plot title
        ctx.fillStyle = '#000';
        ctx.font = 'bold 34px ' + FONT;
        ctx.textAlign = 'right';
        ctx.textBaseline = 'alphabetic';
        ctx.fillText('2014 June 18 flare', 937, 57);

        // x title
        ctx.textAlign = 'center';
        ctx.font = 'bold 34px ' + FONT;
        ctx.fillText('Time (Days, HMJD_OBS - 56825)', 574, 665);

        // left title, "Spitzer" in italics
        ctx.save();
        ctx.translate(36, 336);
        ctx.rotate(-Math.PI / 2);
        ctx.textBaseline = 'middle';
        ctx.textAlign = 'left';
        const fItal = 'italic bold 33px ' + FONT;
        const fBold = 'bold 33px ' + FONT;
        const rest = ' 4.5 µm Flux Density (mJy)';
        ctx.font = fItal;
        const w1 = ctx.measureText('Spitzer').width;
        ctx.font = fBold;
        const w2 = ctx.measureText(rest).width;
        const x0 = -(w1 + w2) / 2;
        ctx.font = fItal;
        ctx.fillText('Spitzer', x0, 0);
        ctx.font = fBold;
        ctx.fillText(rest, x0 + w1, 0);
        ctx.restore();

        // right title
        ctx.save();
        ctx.translate(1021, 272);
        ctx.rotate(-Math.PI / 2);
        ctx.textBaseline = 'middle';
        ctx.textAlign = 'center';
        ctx.font = 'bold 32px ' + FONT;
        ctx.fillText('SMA Flux Density (Jy)', 0, 0);
        ctx.restore();

        // legend
        ctx.fillStyle = '#fff';
        ctx.fillRect(118, 17, 296, 190);
        ctx.strokeStyle = '#3e6597';
        ctx.lineWidth = 2;
        ctx.strokeRect(118, 17, 296, 190);
        ctx.font = 'bold 25px ' + FONT;
        ctx.textAlign = 'right';
        ctx.textBaseline = 'middle';
        legendRows.forEach((r, i) => {
            const y = 41 + i * 28.3;
            ctx.fillStyle = '#000';
            ctx.fillText(r.text, 338, y + 1);
            if (r.kind === 'line') {
                ctx.strokeStyle = r.color;
                ctx.lineWidth = 3.5;
                ctx.beginPath();
                line(ctx, 342, y, 390, y);
                ctx.stroke();
            } else if (r.kind === 'square') {
                ctx.fillStyle = r.color;
                ctx.fillRect(349.5, y - 2.5, 5, 5);
            } else {
                const s = r.size;
                ctx.fillStyle = r.color;
                ctx.beginPath();
                ctx.moveTo(352, y - s);
                ctx.lineTo(352 + s, y);
                ctx.lineTo(352, y + s);
                ctx.lineTo(352 - s, y);
                ctx.closePath();
                ctx.fill();
            }
        });

        ctx.restore();
    }
};

const yTickFont = { family: FONT, size: 24, weight: 'bold' };
const xTickFont = { family: FONT, size: 27, weight: 'bold' };

function fixedTicks(values) {
    return s => { s.ticks = values.map(v => ({ value: v })); };
}

new Chart(document.getElementById('chart'), {
    type: 'scatter',
    data: {
        datasets: [
            { label: '4.5 µm Fit', data: toXY(irFit), yAxisID: 'y', showLine: true, pointRadius: 0,
              borderColor: FIT_BLUE, borderWidth: 3.5, cubicInterpolationMode: 'monotone', order: 1 },
            { label: 'SMA narrow', data: toXY(smaNarrow), yAxisID: 'y2', showLine: true, pointRadius: 0,
              borderColor: SMA_PURPLE, borderWidth: 3.5, borderDash: [0.1, 7.5], borderCapStyle: 'round',
              cubicInterpolationMode: 'monotone', order: 2 },
            { label: 'SMA broad', data: toXY(smaBroad), yAxisID: 'y2', showLine: true, pointRadius: 0,
              borderColor: SMA_LAVENDER, borderWidth: 3.5, borderDash: [13, 8],
              cubicInterpolationMode: 'monotone', order: 3 },
            { label: 'SMA Fit', data: toXY(smaFit), yAxisID: 'y2', showLine: true, pointRadius: 0,
              borderColor: SMA_PURPLE, borderWidth: 3.5, cubicInterpolationMode: 'monotone', order: 4 },
            { label: '4.5 µm smoothed', data: toXY(smoothed), yAxisID: 'y', showLine: true, pointRadius: 0,
              borderColor: GREEN, borderWidth: 3.2, cubicInterpolationMode: 'monotone', order: 5 },
            { label: 'SMA Sgr A*', data: toXY(smaSgrA), yAxisID: 'y2', pointStyle: 'rectRot', pointRadius: 3.6,
              pointBackgroundColor: SGRA_RED, pointBorderWidth: 0, order: 6 },
            { label: 'NRAO530 + 2.2 Jy', data: toXY(nrao530), yAxisID: 'y2', pointStyle: 'rectRot', pointRadius: 4.6,
              pointBackgroundColor: NRAO_PINK, pointBorderWidth: 0, order: 7 },
            { label: '4.5 µm BCD', data: toXY(bcd), yAxisID: 'y', pointStyle: 'rect', pointRadius: 3.5,
              pointBackgroundColor: BCD_BLUE, pointBorderWidth: 0, order: 8 }
        ]
    },
    options: {
        responsive: false,
        animation: false,
        devicePixelRatio: 1,
        events: [],
        layout: { padding: { top: 10, left: 0, right: 0, bottom: 0 } },
        plugins: { legend: { display: false }, tooltip: { enabled: false } },
        scales: {
            x: {
                type: 'linear', min: 1.3, max: 1.5,
                afterBuildTicks: fixedTicks(xLabels),
                afterFit: s => { s.height = 92.3; s.paddingLeft = 0; s.paddingRight = 0; },
                grid: { display: false, drawTicks: false }, border: { display: false },
                ticks: { font: xTickFont, color: '#000', padding: 13, maxRotation: 0, autoSkip: false,
                         callback: v => String(v) }
            },
            y: {
                type: 'linear', position: 'left', min: -5, max: 8,
                afterBuildTicks: fixedTicks(leftLabels),
                afterFit: s => { s.width = 101.5; s.paddingTop = 0; s.paddingBottom = 0; },
                grid: { display: false, drawTicks: false }, border: { display: false },
                ticks: { font: yTickFont, color: '#000', padding: 14, callback: v => String(v) }
            },
            y2: {
                type: 'linear', position: 'right', min: 3, max: 5.2,
                afterBuildTicks: fixedTicks(rightLabels),
                afterFit: s => { s.width = 86.7; s.paddingTop = 0; s.paddingBottom = 0; },
                grid: { display: false, drawTicks: false }, border: { display: false },
                ticks: { font: yTickFont, color: '#000', padding: 26, callback: v => String(v) }
            }
        }
    },
    plugins: [decor]
});
</script>
</body>
</html>
